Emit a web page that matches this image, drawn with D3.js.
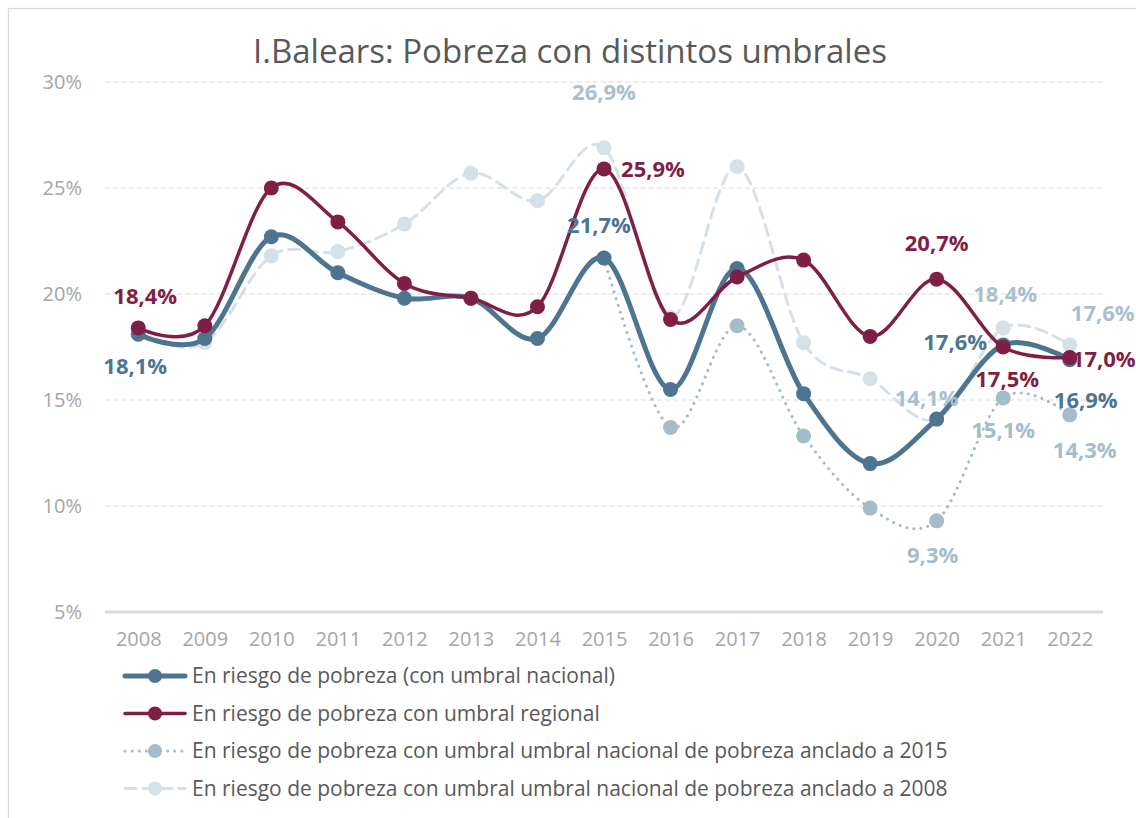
<!DOCTYPE html>
<html>
<head>
<meta charset="utf-8">
<script src="https://cdn.jsdelivr.net/npm/d3@7"></script>
<style>
  body { margin: 0; background: #fff; }
  svg { font-family: "Open Sans", Lato, sans-serif; }
</style>
</head>
<body>
<svg class="svgChart" width="1136" height="818"></svg>
<script>
// data
var years = [2008, 2009, 2010, 2011, 2012, 2013, 2014, 2015, 2016, 2017, 2018, 2019, 2020, 2021, 2022];
var nacional = [18.1, 17.9, 22.7, 21.0, 19.8, 19.8, 17.9, 21.7, 15.5, 21.2, 15.3, 12.0, 14.1, 17.6, 16.9];
var regional = [18.4, 18.5, 25.0, 23.4, 20.5, 19.8, 19.4, 25.9, 18.8, 20.8, 21.6, 18.0, 20.7, 17.5, 17.0];
var anclado2015 = [null, null, null, null, null, null, null, 21.7, 13.7, 18.5, 13.3, 9.9, 9.3, 15.1, 14.3];
var anclado2008 = [18.1, 17.7, 21.8, 22.0, 23.3, 25.7, 24.4, 26.9, 18.9, 26.0, 17.7, 16.0, 14.1, 18.4, 17.6];
var yTicks = [5, 10, 15, 20, 25, 30];

var seriesNames = [
  "En riesgo de pobreza (con umbral nacional)",
  "En riesgo de pobreza con umbral regional",
  "En riesgo de pobreza con umbral umbral nacional de pobreza anclado a 2015",
  "En riesgo de pobreza con umbral umbral nacional de pobreza anclado a 2008"
];

// labels shown on the chart: [series index, year, dx, dy]
var labels = [
  [1, 2008, 7, -24], [0, 2008, -3, 40],
  [3, 2015, 0, -48], [1, 2015, 49, 8], [0, 2015, -5, -25],
  [1, 2020, 0, -28], [3, 2020, -10, -13],
  [2, 2020, -4, 42],
  [3, 2021, 2, -26], [0, 2021, -48, 5], [1, 2021, 4, 40], [2, 2021, 0, 40],
  [3, 2022, 33, -24], [1, 2022, 34, 9], [0, 2022, 16, 48], [2, 2022, 15, 43]
];

var margin = {top: 82, right: 33, bottom: 206, left: 105};
var width = 1136 - margin.left - margin.right;
var height = 818 - margin.top - margin.bottom;

var svg = d3.select('.svgChart');

// chart border
svg.append('rect')
    .attr('x', 8.5).attr('y', 8.5)
    .attr('width', 1140).attr('height', 820)
    .attr('fill', 'none')
    .attr('stroke', '#d9d9d9')
    .attr('stroke-width', 1.2);

svg.append('text')
    .attr('x', 570)
    .attr('y', 63)
    .attr('text-anchor', 'middle')
    .attr('font-size', 33)
    .attr('fill', '#595959')
    .text('I.Balears: Pobreza con distintos umbrales');

var g = svg.append('g')
    .attr('transform', 'translate(' + margin.left + ',' + margin.top + ')');

var xScale = d3.scalePoint()
    .domain(years)
    .range([0, width])
    .padding(0.5);

var yScale = d3.scaleLinear()
    .domain([5, 30])
    .range([height, 0]);

// grid lines
g.append('g')
  .selectAll('line')
  .data(yTicks)
  .enter()
  .append('line')
    .attr('x1', 0)
    .attr('x2', width)
    .attr('y1', d => yScale(d))
    .attr('y2', d => yScale(d))
    .attr('stroke', '#d9d9d9')
    .attr('stroke-width', d => d === 5 ? 3 : 1.2)
    .attr('stroke-dasharray', d => d === 5 ? null : '5,3');

// y axis
var yAxis = d3.axisLeft(yScale)
    .tickValues(yTicks)
    .tickSize(0)
    .tickPadding(23)
    .tickFormat(d => d + '%');
g.append('g')
    .attr('class', 'yAxis')
    .call(yAxis)
    .call(a => a.select('.domain').remove())
    .selectAll('text')
      .attr('font-size', 20)
      .attr('font-family', '"Open Sans", sans-serif')
      .attr('fill', '#a6a6a6');

// x axis
var xAxis = d3.axisBottom(xScale).tickSize(0).tickPadding(20);
g.append('g')
    .attr('class', 'xAxis')
    .attr('transform', 'translate(0,' + height + ')')
    .call(xAxis)
    .call(a => a.select('.domain').remove())
    .selectAll('text')
      .attr('font-size', 20)
      .attr('font-family', '"Open Sans", sans-serif')
      .attr('fill', '#a6a6a6');

var series = [
  {values: nacional, color: '#4e7590', width: 5, dash: null, r: 7.5, labelColor: '#4e7590'},
  {values: regional, color: '#7f1f45', width: 3.5, dash: null, r: 7.5, labelColor: '#7f1f45'},
  {values: anclado2015, color: '#a5bccb', width: 3, dash: '0.1,7', r: 7.5, labelColor: '#a5bccb'},
  {values: anclado2008, color: '#d5e0e8', width: 3, dash: '11,7', r: 7.5, labelColor: '#a9bfcd'}
];

var line = d3.line()
    .defined(d => d.v !== null)
    .x(d => xScale(d.year))
    .y(d => yScale(d.v))
    .curve(d3.curveCardinal.tension(0));

// draw order: back to front
var order = [3, 2, 0, 1];
order.forEach(function(i) {
  var s = series[i];
  var pts = years.map((y, j) => ({year: y, v: s.values[j]}));
  g.append('path')
      .datum(pts.filter(d => d.v !== null))
      .attr('fill', 'none')
      .attr('stroke', s.color)
      .attr('stroke-width', s.width)
      .attr('stroke-linecap', 'round')
      .attr('stroke-dasharray', s.dash)
      .attr('d', line);
  g.append('g')
    .selectAll('circle')
    .data(pts.filter(d => d.v !== null))
    .enter()
    .append('circle')
      .attr('cx', d => xScale(d.year))
      .attr('cy', d => yScale(d.v))
      .attr('r', s.r)
      .attr('fill', s.color);
});

// data labels
g.append('g')
  .selectAll('text')
  .data(labels)
  .enter()
  .append('text')
    .attr('x', d => xScale(d[1]) + d[2])
    .attr('y', d => yScale(series[d[0]].values[years.indexOf(d[1])]) + d[3])
    .attr('text-anchor', 'middle')
    .attr('font-size', 22)
    .attr('font-weight', 'bold')
    .attr('fill', d => series[d[0]].labelColor)
    .text(d => d3.format('.1f')(series[d[0]].values[years.indexOf(d[1])]).replace('.', ',') + '%');

// legend
var legend = svg.append('g')
    .attr('class', 'legend')
  .selectAll('g')
  .data(seriesNames)
  .enter()
  .append('g')
    .attr('transform', (d, i) => 'translate(125,' + (676 + i * 37.5) + ')');

legend.append('line')
    .attr('x1', 0).attr('x2', 60)
    .attr('stroke', (d, i) => series[i].color)
    .attr('stroke-width', (d, i) => series[i].width)
    .attr('stroke-linecap', 'round')
    .attr('stroke-dasharray', (d, i) => series[i].dash);

legend.append('circle')
    .attr('cx', 30)
    .attr('r', 7)
    .attr('fill', (d, i) => series[i].color);

legend.append('text')
    .attr('x', 67)
    .attr('y', 0)
    .attr('dy', '0.35em')
    .attr('font-size', 21)
    .attr('fill', '#595959')
    .text(d => d);
</script>
</body>
</html>
